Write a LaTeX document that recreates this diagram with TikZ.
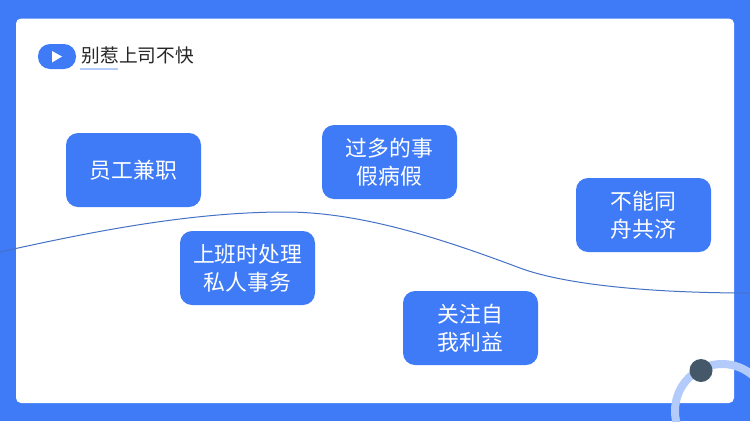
\documentclass[tikz,border=0pt]{standalone}
\usepackage{fontspec}
\setmainfont{Noto Sans CJK SC}
\definecolor{mainblue}{HTML}{3F7BF7}
\definecolor{ringblue}{HTML}{B2CBFB}
\definecolor{dotdark}{HTML}{44586A}
\definecolor{curveblue}{HTML}{4472C4}
\tikzset{
  topicbox/.style={fill=mainblue,rounded corners=12pt,minimum width=135pt,minimum height=74pt,inner sep=0pt,
    text=white,align=center,font=\fontsize{21.8pt}{27.5pt}\selectfont},
}
\begin{document}
\begin{tikzpicture}[x=1pt,y=-1pt]
\useasboundingbox (0,0) rectangle (750,421);
\clip (0,0) rectangle (750,421);
\fill[mainblue] (0,0) rectangle (750,421);
\fill[white,rounded corners=5pt] (16,18.5) rectangle (734,403);
\draw[ringblue,line width=8pt] (722,411) circle (47);
\node[circle,fill=dotdark,minimum size=23pt,inner sep=0pt] (dot) at (701,370.5) {};
\draw[curveblue,line width=1pt] (0,252) .. controls (90,232) and (190,212) .. (285,212)
  .. controls (360,212) and (440,238) .. (520,268) .. controls (560,283) and (640,293) .. (750,293);
\node[fill=mainblue,rounded corners=12pt,minimum width=38pt,minimum height=25pt,inner sep=0pt] (pill) at (57,56.5) {};
\fill[white] (52,51) -- (62,56.5) -- (52,62.5) -- cycle;
\node[anchor=west,inner sep=0pt,font=\fontsize{18.7pt}{22pt}\selectfont,text=black!85] (title) at (81.5,55) {别惹上司不快};
\draw[ringblue,line width=1.5pt] (80,69) -- (118,69);
\node[topicbox] (a) at (133.5,170) {员工兼职};
\node[topicbox] (b) at (389.5,162) {过多的事\\假病假};
\node[topicbox] (c) at (247.5,268) {上班时处理\\私人事务};
\node[topicbox] (d) at (470.5,328) {关注自\\我利益};
\node[topicbox] (e) at (643.5,215) {不能同\\舟共济};
\end{tikzpicture}
\end{document}
